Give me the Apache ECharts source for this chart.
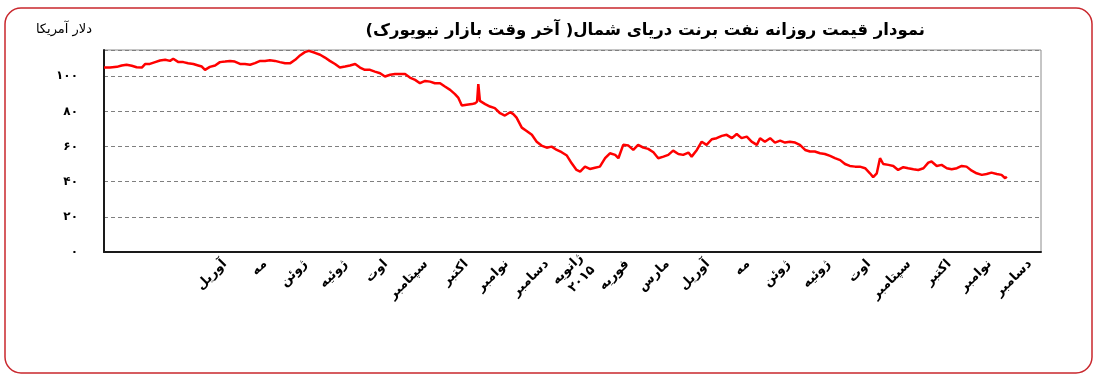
<!DOCTYPE html>
<html>
<head>
<meta charset="utf-8">
<script src="https://cdn.jsdelivr.net/npm/echarts@6/dist/echarts.min.js"></script>
<style>
html,body{margin:0;padding:0;background:#fff;}
#chart{width:1100px;height:381px;}
</style>
</head>
<body>
<div id="chart" dir="rtl"></div>
<script>
// x positions in months since the start of January 2014
const months = [
 0,0.15,0.32,0.44,0.56,0.69,0.81,0.94,1.02,1.14,
 1.27,1.39,1.52,1.64,1.72,1.85,1.97,2.09,2.22,2.34,
 2.43,2.51,2.63,2.76,2.88,3.01,3.13,3.25,3.38,3.50,
 3.63,3.75,3.88,4.00,4.12,4.25,4.37,4.50,4.62,4.75,
 4.87,4.99,5.09,5.24,5.37,5.49,5.61,5.74,5.86,5.99,
 6.11,6.24,6.36,6.48,6.61,6.73,6.86,6.98,7.11,7.23,
 7.35,7.48,7.60,7.73,7.85,7.98,8.10,8.22,8.35,8.47,
 8.60,8.72,8.80,8.89,9.01,9.14,9.22,9.27,9.30,9.34,
 9.47,9.59,9.71,9.84,9.96,10.09,10.17,10.25,10.38,10.50,
 10.63,10.75,10.87,11.00,11.12,11.25,11.37,11.50,11.62,11.74,
 11.83,11.95,12.07,12.20,12.32,12.45,12.57,12.70,12.78,12.90,
 13.03,13.15,13.27,13.40,13.52,13.65,13.77,13.90,14.02,14.14,
 14.27,14.39,14.52,14.60,14.73,14.85,14.97,15.10,15.22,15.35,
 15.47,15.60,15.72,15.84,15.97,16.09,16.22,16.30,16.42,16.55,
 16.67,16.80,16.92,17.04,17.17,17.29,17.42,17.54,17.66,17.79,
 17.91,18.04,18.16,18.29,18.41,18.53,18.66,18.78,18.91,19.03,
 19.11,19.20,19.28,19.36,19.49,19.61,19.73,19.86,19.98,20.11,
 20.23,20.36,20.48,20.56,20.69,20.81,20.94,21.06,21.19,21.31,
 21.43,21.56,21.68,21.81,21.93,22.05,22.18,22.30,22.39,22.43
];
// Brent price, US dollars per barrel
const prices = [
 105.0,105.0,105.4,106.2,106.6,106.0,105.2,105.0,107.0,107.1,
 108.1,109.0,109.4,108.8,110.0,108.1,108.1,107.5,107.0,106.2,
 105.6,103.7,105.4,106.2,108.1,108.4,108.8,108.4,107.1,107.0,
 106.6,107.5,108.8,108.8,109.2,108.8,108.1,107.5,107.4,109.4,
 111.9,113.8,114.5,113.4,112.3,110.7,108.8,107.0,105.0,105.6,
 106.2,107.0,105.0,103.7,103.7,102.7,101.8,99.9,100.9,101.3,
 101.3,101.3,99.3,98.0,96.1,97.4,97.0,96.1,96.1,94.2,
 92.3,89.9,87.9,83.4,83.8,84.2,84.7,85.6,95.6,86.0,
 84.2,82.8,81.9,79.0,77.7,79.6,78.5,76.5,70.8,68.9,
 66.7,62.8,60.6,59.4,60.0,58.1,56.8,54.9,50.5,46.7,
 45.8,48.6,47.3,48.0,48.6,53.4,56.2,55.3,53.4,61.0,
 60.6,58.1,61.0,59.4,58.7,56.8,53.4,54.3,55.3,57.7,
 55.8,55.3,56.6,54.3,58.1,62.8,61.0,64.2,64.8,66.1,
 66.7,64.8,67.2,64.8,65.7,62.8,61.0,64.8,62.8,64.8,
 62.3,63.4,62.3,62.8,62.3,61.0,58.1,57.2,57.2,56.2,
 55.8,54.7,53.4,52.3,50.1,49.0,48.6,48.6,47.7,44.8,
 42.6,44.8,53.4,50.1,49.6,49.0,46.7,48.3,47.7,47.1,
 46.7,47.7,50.9,51.5,49.0,49.6,47.7,47.1,47.7,49.0,
 48.6,46.3,44.8,43.9,44.4,45.2,44.4,43.9,42.0,42.9
];
// month tick labels (index = months since Jan 2014)
const monthLabels = ['', '', '', 'آوریل', 'مه', 'ژوئن', 'ژوئیه', 'اوت', 'سپتامبر', 'اکتبر', 'نوامبر', 'دسامبر',
  'ژانویه\n۲۰۱۵', 'فوریه', 'مارس', 'آوریل', 'مه', 'ژوئن', 'ژوئیه', 'اوت', 'سپتامبر', 'اکتبر', 'نوامبر', 'دسامبر'];
const yTickLabels = {0: '۰', 20: '۲۰', 40: '۴۰', 60: '۶۰', 80: '۸۰', 100: '۱۰۰'};
const titleText = 'نمودار قیمت روزانه نفت برنت دریای شمال( آخر وقت بازار نیویورک)';
const unitText = 'دلار آمریکا';

const FONT = 'DejaVu Sans';
const chart = echarts.init(document.getElementById('chart'), null, {renderer: 'canvas'});
const seriesData = months.map((m, i) => [m, prices[i]]);

chart.setOption({
  animation: false,
  backgroundColor: '#fff',
  grid: {left: 104, right: 59, top: 50, bottom: 129, show: true, borderColor: '#8c8c8c', borderWidth: 1},
  xAxis: {
    type: 'value', min: 0, max: 23.28, interval: 1,
    axisLine: {show: true, onZero: false, lineStyle: {color: '#1a1a1a', width: 2}},
    axisTick: {show: false},
    splitLine: {show: false},
    axisLabel: {
      show: true, rotate: 45, margin: 10, showMaxLabel: false,
      color: '#000', fontFamily: FONT, fontWeight: 'bold', fontSize: 13, lineHeight: 17,
      formatter: v => monthLabels[Math.round(v)] || ''
    }
  },
  yAxis: {
    type: 'value', min: 0, max: 115, interval: 20,
    axisLine: {show: true, lineStyle: {color: '#1a1a1a', width: 2}},
    axisTick: {show: false},
    splitLine: {show: true, lineStyle: {color: '#7f7f7f', type: [4, 3], width: 1}},
    axisLabel: {
      margin: 26, color: '#000', fontFamily: FONT, fontWeight: 'bold', fontSize: 12,
      showMaxLabel: false,
      formatter: v => (yTickLabels[v] !== undefined ? yTickLabels[v] : '')
    }
  },
  series: [{
    type: 'line', data: seriesData, showSymbol: false, symbol: 'none',
    lineStyle: {color: '#ff0000', width: 2.5}, z: 5
  }],
  graphic: [
    {type: 'rect', shape: {x: 5, y: 8, width: 1087, height: 365, r: 16}, silent: true,
     style: {fill: null, stroke: '#c9272d', lineWidth: 1.5}},
    {type: 'text', x: 925, y: 31, silent: true,
     style: {text: titleText, font: 'bold 16.5px "' + FONT + '"', fill: '#000', textAlign: 'right', textVerticalAlign: 'middle'}},
    {type: 'text', x: 92, y: 30, silent: true,
     style: {text: unitText, font: '13px "' + FONT + '"', fill: '#000', textAlign: 'right', textVerticalAlign: 'middle'}}
  ]
});
</script>
</body>
</html>
